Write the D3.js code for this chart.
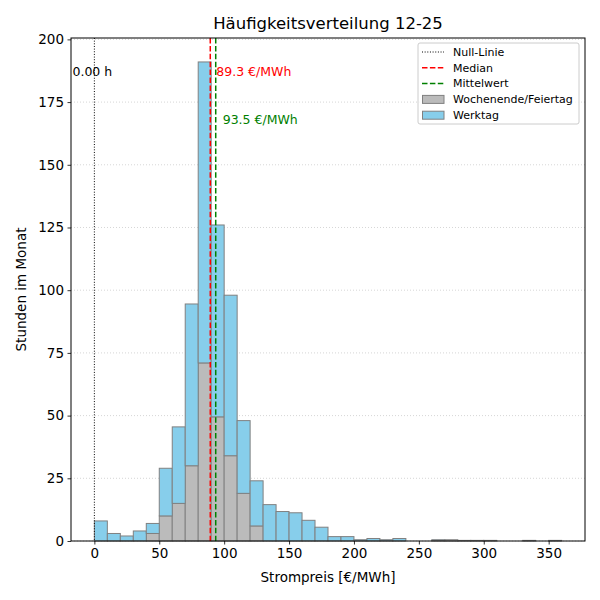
<!DOCTYPE html>
<html>
<head>
<meta charset="utf-8">
<script src="https://d3js.org/d3.v7.min.js"></script>
<style>
  body { margin: 0; background: #fff; }
  text { font-family: "DejaVu Sans", sans-serif; }
</style>
</head>
<body>
<svg id="chart" width="600" height="600"></svg>
<script>
// bin starts in €/MWh, width 10
var binStarts = d3.range(0, 360, 10);
// hours per bin, weekend/holiday (grey, bottom of stack)
var weekend = [0, 0, 0, 0, 3, 10, 15, 30, 71, 49.5, 34, 19, 6, 0, 0, 0, 0, 0,
               0, 0, 0, 0, 0, 0, 0, 0, 0.25, 0.5, 0.25, 0.25, 0.25, 0, 0, 0.25, 0, 0.25];
// total hours per bin (weekend + working day)
var total = [8, 3, 2, 4, 7, 29, 45.5, 94.5, 191, 126, 98, 48, 24, 14.5, 11.75, 11.25, 8.25, 5.5,
             1.75, 1.75, 0.5, 1, 0.5, 1, 0, 0, 0.5, 0.5, 0.25, 0.25, 0.25, 0, 0, 0.25, 0, 0.25];
var weekday = total.map(function(t, i) { return t - weekend[i]; });

var xTicks = [0, 50, 100, 150, 200, 250, 300, 350];
var yTicks = [0, 25, 50, 75, 100, 125, 150, 175, 200];
var medianVal = 89.3;
var meanVal = 93.5;
var zeroHours = "0.00 h";

var plotLeft = 71, plotRight = 585, plotTop = 38, plotBottom = 541;
var svg = d3.select("#chart");

var x = d3.scaleLinear().domain([-18, 378]).range([plotLeft, plotRight]);
var y = d3.scaleLinear().domain([0, 200.55]).range([plotBottom, plotTop]);

// grid
svg.append("g").selectAll("line")
  .data(yTicks)
  .enter().append("line")
  .attr("x1", plotLeft).attr("x2", plotRight)
  .attr("y1", function(d) { return y(d); })
  .attr("y2", function(d) { return y(d); })
  .attr("stroke", "#cccccc")
  .attr("stroke-width", 0.8)
  .attr("stroke-dasharray", "1,2");

// stacked bars
svg.append("g").selectAll("rect")
  .data(binStarts)
  .enter().append("rect")
  .filter(function(d, i) { return weekend[i] > 0; })
  .attr("x", function(d) { return x(d); })
  .attr("width", function(d) { return x(d + 10) - x(d); })
  .attr("y", function(d) { return y(weekend[binStarts.indexOf(d)]); })
  .attr("height", function(d) { return plotBottom - y(weekend[binStarts.indexOf(d)]); })
  .attr("fill", "#bbbbbb")
  .attr("stroke", "#808080")
  .attr("stroke-width", 1);

svg.append("g").selectAll("rect")
  .data(binStarts)
  .enter().append("rect")
  .filter(function(d, i) { return weekday[i] > 0; })
  .attr("x", function(d) { return x(d); })
  .attr("width", function(d) { return x(d + 10) - x(d); })
  .attr("y", function(d) { return y(total[binStarts.indexOf(d)]); })
  .attr("height", function(d) {
    var i = binStarts.indexOf(d);
    return y(weekend[i]) - y(total[i]);
  })
  .attr("fill", "#87ceeb")
  .attr("stroke", "#808080")
  .attr("stroke-width", 1);

// reference lines
svg.append("line")
  .attr("x1", x(0)).attr("x2", x(0)).attr("y1", plotTop).attr("y2", plotBottom)
  .attr("stroke", "black").attr("stroke-width", 1).attr("stroke-dasharray", "1,1.65");
svg.append("line")
  .attr("x1", x(medianVal)).attr("x2", x(medianVal)).attr("y1", plotTop).attr("y2", plotBottom)
  .attr("stroke", "red").attr("stroke-width", 1.5).attr("stroke-dasharray", "5.5,2.4");
svg.append("line")
  .attr("x1", x(meanVal)).attr("x2", x(meanVal)).attr("y1", plotTop).attr("y2", plotBottom)
  .attr("stroke", "green").attr("stroke-width", 1.5).attr("stroke-dasharray", "5.5,2.4");

svg.append("text")
  .attr("x", x(0) - 2).attr("y", y(187)).attr("dy", "0.35em")
  .attr("text-anchor", "middle").attr("font-size", "12.5px")
  .text(zeroHours);
svg.append("text")
  .attr("x", x(medianVal) + 6).attr("y", y(187)).attr("dy", "0.35em")
  .attr("font-size", "12.5px").attr("fill", "red")
  .text(medianVal.toFixed(1) + " €/MWh");
svg.append("text")
  .attr("x", x(meanVal) + 7).attr("y", y(168)).attr("dy", "0.35em")
  .attr("font-size", "12.5px").attr("fill", "green")
  .text(meanVal.toFixed(1) + " €/MWh");

// axes
var xAxis = svg.append("g")
  .attr("transform", "translate(0," + plotBottom + ")")
  .call(d3.axisBottom(x).tickValues(xTicks).tickSize(3.5).tickPadding(3.5));
var yAxis = svg.append("g")
  .attr("transform", "translate(" + plotLeft + ",0)")
  .call(d3.axisLeft(y).tickValues(yTicks).tickSize(3.5).tickPadding(3.5));
[xAxis, yAxis].forEach(function(g) {
  g.select(".domain").remove();
  g.selectAll("text").attr("font-size", "13.5px").attr("font-family", "DejaVu Sans, sans-serif").attr("fill", "black");
  g.selectAll("line").attr("stroke", "black").attr("stroke-width", 0.8);
});

svg.append("rect")
  .attr("x", plotLeft).attr("y", plotTop)
  .attr("width", plotRight - plotLeft).attr("height", plotBottom - plotTop)
  .attr("fill", "none").attr("stroke", "black").attr("stroke-width", 1);

// titles
svg.append("text")
  .attr("x", (plotLeft + plotRight) / 2).attr("y", 29)
  .attr("text-anchor", "middle").attr("font-size", "16.5px")
  .text("Häufigkeitsverteilung 12-25");
svg.append("text")
  .attr("x", (plotLeft + plotRight) / 2).attr("y", 582)
  .attr("text-anchor", "middle").attr("font-size", "13.5px")
  .text("Strompreis [€/MWh]");
svg.append("text")
  .attr("transform", "translate(26," + ((plotTop + plotBottom) / 2) + ") rotate(-90)")
  .attr("text-anchor", "middle").attr("font-size", "13.5px")
  .text("Stunden im Monat");

// legend
var legendItems = [
  { label: "Null-Linie", type: "line", color: "black", dash: "1,1.65", width: 1 },
  { label: "Median", type: "line", color: "red", dash: "5.5,2.4", width: 1.5 },
  { label: "Mittelwert", type: "line", color: "green", dash: "5.5,2.4", width: 1.5 },
  { label: "Wochenende/Feiertag", type: "patch", color: "#bbbbbb" },
  { label: "Werktag", type: "patch", color: "#87ceeb" }
];
var lg = svg.append("g").attr("transform", "translate(418,43)");
lg.append("rect")
  .attr("width", 161).attr("height", 81).attr("rx", 2)
  .attr("fill", "white").attr("fill-opacity", 0.8)
  .attr("stroke", "#cccccc").attr("stroke-width", 1);
legendItems.forEach(function(d, i) {
  var cy = 9 + i * 15.8;
  if (d.type === "line") {
    lg.append("line")
      .attr("x1", 4).attr("x2", 26).attr("y1", cy).attr("y2", cy)
      .attr("stroke", d.color).attr("stroke-width", d.width)
      .attr("stroke-dasharray", d.dash);
  } else {
    lg.append("rect")
      .attr("x", 4.5).attr("y", cy - 4).attr("width", 21.5).attr("height", 8)
      .attr("fill", d.color).attr("stroke", "#808080").attr("stroke-width", 1);
  }
  lg.append("text")
    .attr("x", 35).attr("y", cy).attr("dy", "0.35em")
    .attr("font-size", "11px")
    .text(d.label);
});
</script>
</body>
</html>
